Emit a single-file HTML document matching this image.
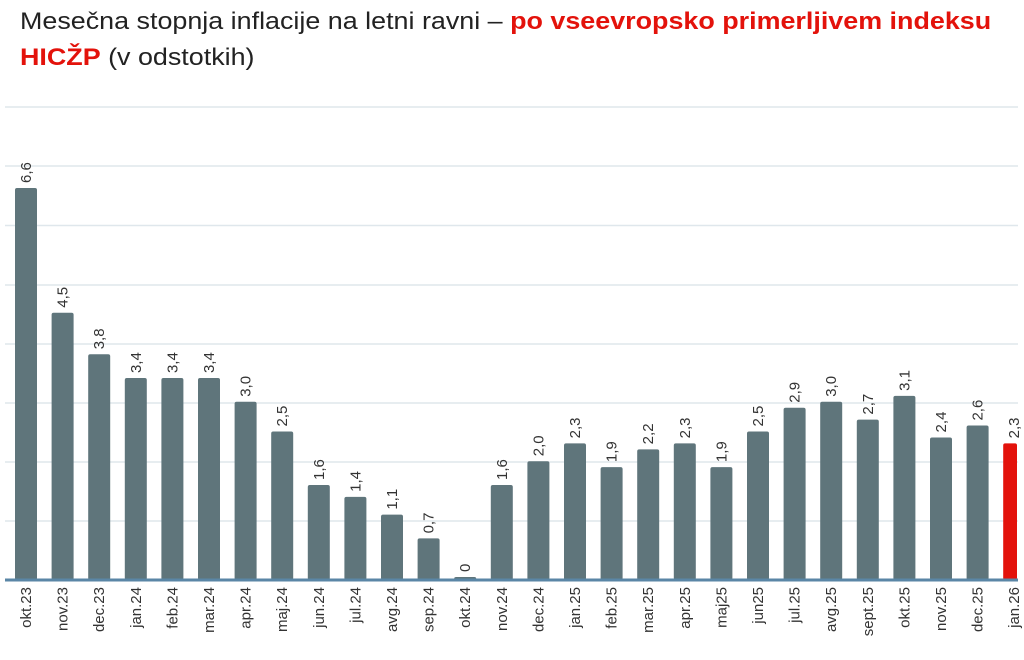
<!DOCTYPE html>
<html><head><meta charset="utf-8"><style>
body{margin:0;background:#fff;width:1024px;height:660px;overflow:hidden;font-family:"Liberation Sans",sans-serif}
.t{position:absolute;left:20px;top:4px;font-size:24px;line-height:36px;color:#222;transform:scaleX(1.12);transform-origin:0 0;white-space:nowrap}
.r{color:#e3120b;font-weight:bold}
</style></head><body>
<div class="t">Mesečna stopnja inflacije na letni ravni – <span class="r">po vseevropsko primerljivem indeksu</span><br><span class="r">HICŽP</span> (v odstotkih)</div>
<svg width="1024" height="660" style="position:absolute;left:0;top:0" font-family="Liberation Sans, sans-serif">
<g stroke="#dfe7ec" stroke-width="1.5">
<line x1="5" x2="1018" y1="107" y2="107"/><line x1="5" x2="1018" y1="166" y2="166"/><line x1="5" x2="1018" y1="225.5" y2="225.5"/><line x1="5" x2="1018" y1="285" y2="285"/><line x1="5" x2="1018" y1="344" y2="344"/><line x1="5" x2="1018" y1="403" y2="403"/><line x1="5" x2="1018" y1="462" y2="462"/><line x1="5" x2="1018" y1="521" y2="521"/>
</g>
<g id="bars"></g>
<line x1="5" x2="1018" y1="580" y2="580" stroke="#5a86a6" stroke-width="3"/>
</svg>
<script>
(function(){
var v=[6.6,4.5,3.8,3.4,3.4,3.4,3.0,2.5,1.6,1.4,1.1,0.7,0,1.6,2.0,2.3,1.9,2.2,2.3,1.9,2.5,2.9,3.0,2.7,3.1,2.4,2.6,2.3];
var l=["okt.23","nov.23","dec.23","jan.24","feb.24","mar.24","apr.24","maj.24","jun.24","jul.24","avg.24","sep.24","okt.24","nov.24","dec.24","jan.25","feb.25","mar.25","apr.25","maj25","jun25","jul.25","avg.25","sept.25","okt.25","nov.25","dec.25","jan.26"];
var s="";
for(var i=0;i<v.length;i++){
 var cx=26+i*36.6,h=Math.max(v[i]*59.4,3),ty=580-h;
 var x=cx-11, w=Math.min(22,1017-x);
 s+='<rect x="'+x+'" y="'+ty+'" width="'+w+'" height="'+h+'" rx="2" fill="'+(i==27?'#e3120b':'#5f757b')+'"/>';
 var lab=(v[i]==0)?"0":v[i].toFixed(1).replace(".",",");
 s+='<text transform="translate('+(cx+5)+','+(ty-5)+') rotate(-90)" font-size="15" fill="#333">'+lab+'</text>';
 s+='<text transform="translate('+(cx+5)+',587) rotate(-90)" font-size="15" fill="#333" text-anchor="end">'+l[i]+'</text>';
}
document.getElementById("bars").innerHTML=s;
})();
</script>
</body></html>
